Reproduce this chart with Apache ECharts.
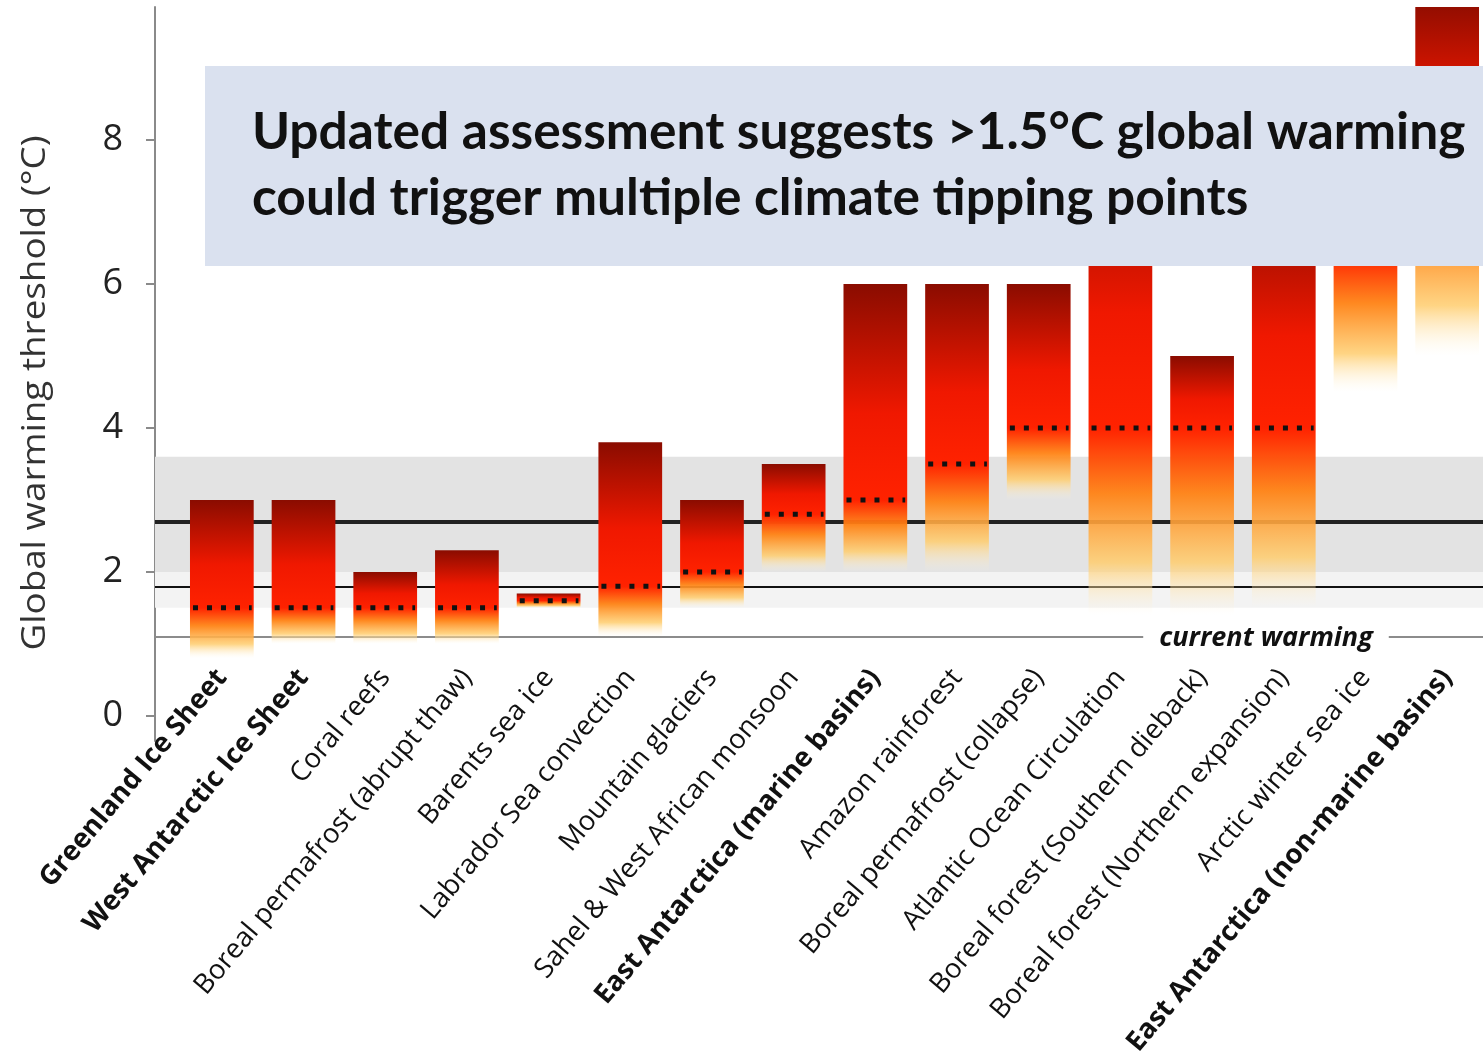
<!DOCTYPE html>
<html>
<head>
<meta charset="utf-8">
<script src="https://cdn.jsdelivr.net/npm/echarts@6/dist/echarts.min.js"></script>
<style>
html,body{margin:0;padding:0;background:#fff;}
#chart{width:1483px;height:1051px;}
</style>
</head>
<body>
<div id="chart"></div>
<script>
// ---------------- data ----------------
const categories = [
  'Greenland Ice Sheet', 'West Antarctic Ice Sheet', 'Coral reefs',
  'Boreal permafrost (abrupt thaw)', 'Barents sea ice', 'Labrador Sea convection',
  'Mountain glaciers', 'Sahel & West African monsoon', 'East Antarctica (marine basins)',
  'Amazon rainforest', 'Boreal permafrost (collapse)', 'Atlantic Ocean Circulation',
  'Boreal forest (Southern dieback)', 'Boreal forest (Northern expansion)',
  'Arctic winter sea ice', 'East Antarctica (non-marine basins)'
];
const lowValues     = [0.8, 1.0, 1.0, 1.0, 1.5, 1.1, 1.5, 2.0, 2.0, 2.0, 3.0, 1.4, 1.4, 1.5, 4.5, 5.0];
const highValues    = [3.0, 3.0, 2.0, 2.3, 1.7, 3.8, 3.0, 3.5, 6.0, 6.0, 6.0, 8.0, 5.0, 7.2, 8.7, 10.0];
const centralValues = [1.5, 1.5, 1.5, 1.5, 1.6, 1.8, 2.0, 2.8, 3.0, 3.5, 4.0, 4.0, 4.0, 4.0, 6.4, 7.5];
const yTicks = [0, 2, 4, 6, 8];
const currentWarming = 1.1;
const parisRange = [1.5, 2.0];
const policyRange = [2.0, 3.6];
const currentPolicies = 2.7;
const pledgesLevel = 1.8;
const boldLabels = ['Greenland Ice Sheet', 'West Antarctic Ice Sheet',
  'East Antarctica (marine basins)', 'East Antarctica (non-marine basins)'];
const yMin = -0.35, yMax = 9.85;

// -------------- chart --------------
const chart = echarts.init(document.getElementById('chart'), null, {renderer: 'canvas'});
const barData = categories.map((c, i) => [i, lowValues[i], highValues[i], centralValues[i]]);

function renderItem(params, api) {
  const idx = api.value(0), lo = api.value(1), hi = api.value(2), mid = api.value(3);
  const pTop = api.coord([idx, hi]);
  const pBot = api.coord([idx, lo]);
  const pMid = api.coord([idx, mid]);
  const bw = api.size([1, 0])[0] * 0.78;
  const x = pTop[0] - bw / 2;
  const c = (hi - mid) / (hi - lo);
  const r = 1 - c;
  const grad = {
    type: 'linear', x: 0, y: 0, x2: 0, y2: 1,
    colorStops: [
      {offset: 0, color: '#8a0c00'},
      {offset: c * 0.6, color: '#f01800'},
      {offset: c, color: '#ff2200'},
      {offset: c + r * 0.35, color: 'rgba(255,130,20,0.95)'},
      {offset: c + r * 0.72, color: 'rgba(255,205,110,0.85)'},
      {offset: 1, color: 'rgba(255,245,220,0)'}
    ]
  };
  return {
    type: 'group',
    children: [
      {type: 'rect', shape: {x: x, y: pTop[1], width: bw, height: pBot[1] - pTop[1]},
       style: {fill: grad}},
      {type: 'line', shape: {x1: x + 3, y1: pMid[1], x2: x + bw - 2, y2: pMid[1]},
       style: {stroke: '#111', lineWidth: 5, lineDash: [5, 9]}}
    ]
  };
}

const option = {
  animation: false,
  backgroundColor: '#fff',
  grid: [
    {left: 181, width: 1307, top: 7, bottom: 310, containLabel: false, outerBoundsMode: 'none'},
    {left: 155, right: 0, top: 7, bottom: 310, containLabel: false, outerBoundsMode: 'none'}
  ],
  xAxis: [
    {
      type: 'category', gridIndex: 0, data: categories,
      axisLine: {show: false}, axisTick: {show: false},
      offset: -74,
      axisLabel: {
        interval: 0, rotate: 50, margin: 6,
        fontFamily: 'Open Sans', fontSize: 27.5, color: '#111',
        formatter: v => boldLabels.includes(v) ? '{b|' + v + '}' : v,
        rich: {b: {fontFamily: 'Open Sans', fontSize: 27.5, fontWeight: 'bold', color: '#111'}}
      }
    },
    {type: 'value', gridIndex: 1, min: 0, max: 1, show: false}
  ],
  yAxis: [
    {type: 'value', gridIndex: 0, min: yMin, max: yMax, show: false},
    {
      type: 'value', gridIndex: 1, min: yMin, max: yMax, interval: 2,
      axisLine: {show: true, lineStyle: {color: '#8a8a8a', width: 2}},
      axisTick: {show: true, length: 9, lineStyle: {color: '#8a8a8a', width: 2}, customValues: yTicks},
      axisLabel: {margin: 32, fontFamily: 'Open Sans', fontSize: 36, color: '#222', customValues: yTicks},
      splitLine: {show: false}
    }
  ],
  series: [
    {
      type: 'line', xAxisIndex: 1, yAxisIndex: 1, data: [], z: 1, silent: true,
      markArea: {
        silent: true,
        data: [
          [{yAxis: policyRange[0], itemStyle: {color: '#e3e3e3'}}, {yAxis: policyRange[1]}],
          [{yAxis: parisRange[0], itemStyle: {color: '#f3f3f3'}}, {yAxis: parisRange[1]}]
        ]
      },
      markLine: {
        silent: true, symbol: 'none', label: {show: false},
        data: [
          {yAxis: currentPolicies, lineStyle: {color: '#222', width: 4, type: 'solid'}},
          {yAxis: pledgesLevel, lineStyle: {color: '#111', width: 2, type: 'solid'}},
          {yAxis: currentWarming, lineStyle: {color: '#8c8c8c', width: 2, type: 'solid'}}
        ]
      }
    },
    {
      type: 'custom', xAxisIndex: 0, yAxisIndex: 0, z: 5, clip: true,
      renderItem: renderItem,
      encode: {x: 0, y: [1, 2, 3]},
      data: barData
    }
  ],
  graphic: [
    {type: 'rect', z: 100, shape: {x: 205, y: 66, width: 1300, height: 200}, style: {fill: '#dae1ef'}},
    {type: 'text', z: 101, x: 252, y: 132, scaleX: 0.99,
     style: {text: 'Updated assessment suggests >1.5°C global warming', font: 'bold 52px Lato', fill: '#111', verticalAlign: 'middle'}},
    {type: 'text', z: 101, x: 252, y: 198, scaleX: 0.99,
     style: {text: 'could trigger multiple climate tipping points', font: 'bold 52px Lato', fill: '#111', verticalAlign: 'middle'}},
    {type: 'text', z: 50, x: 1266, y: 638,
     style: {text: 'current warming', font: 'italic bold 27px "Open Sans"', fill: '#111', align: 'center', verticalAlign: 'middle', backgroundColor: '#fff', padding: [2, 16]}},
    {type: 'text', z: 50, x: 36, y: 393, rotation: Math.PI / 2, scaleX: 1.15,
     style: {text: 'Global warming threshold (°C)', font: '32px "Open Sans"', fill: '#333', align: 'center', verticalAlign: 'middle'}}
  ]
};
chart.setOption(option);
</script>
</body>
</html>
